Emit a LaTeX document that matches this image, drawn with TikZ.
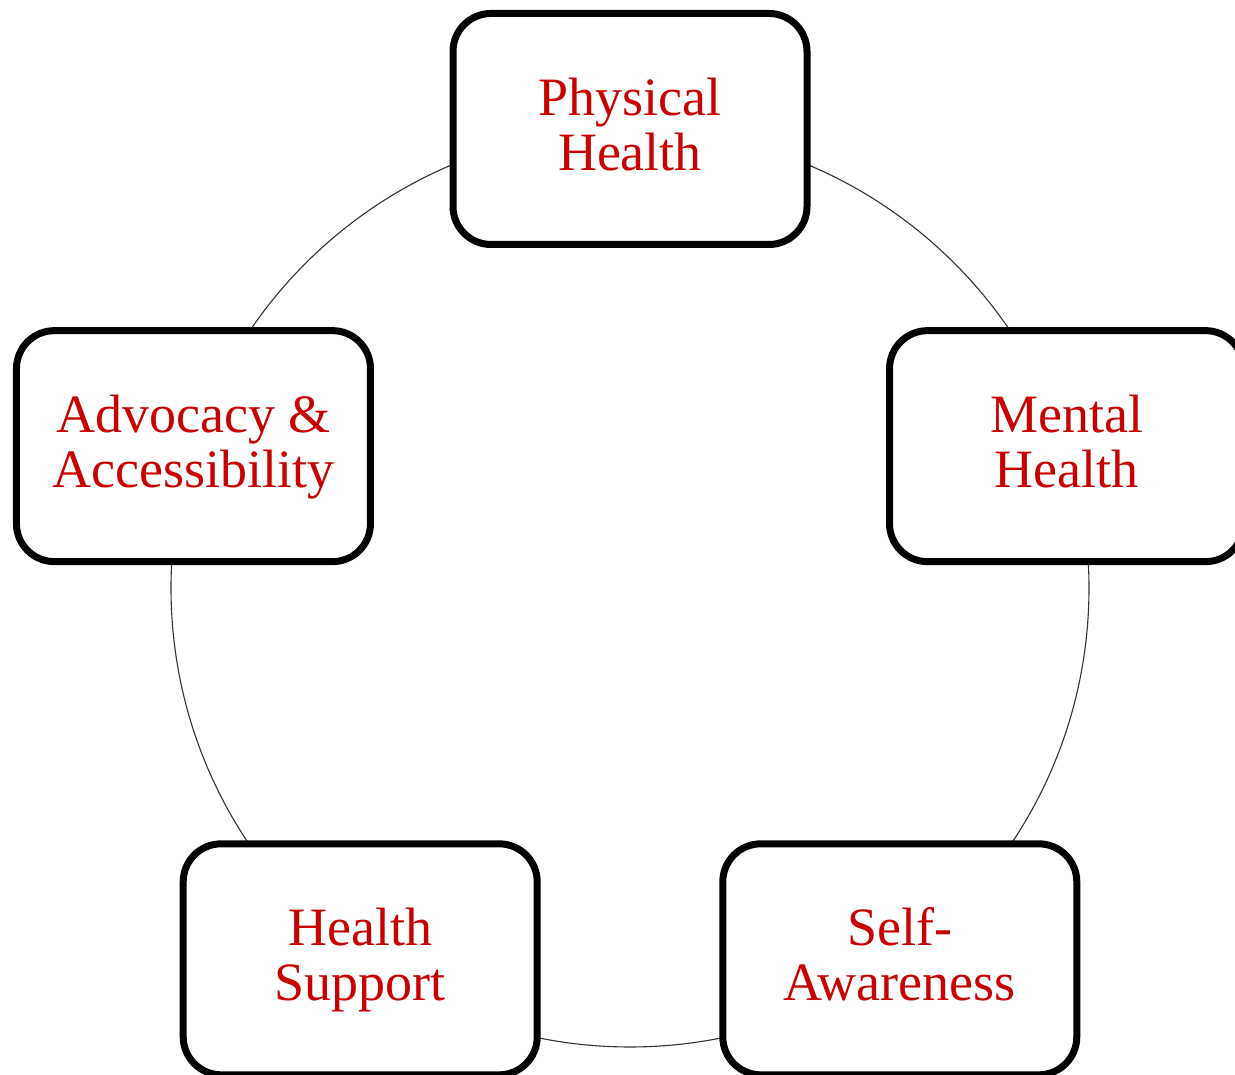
\documentclass[tikz,border=0pt]{standalone}
\usepackage{fontspec}
\setmainfont{Liberation Serif}
\usetikzlibrary{calc}
\definecolor{labelred}{RGB}{200,0,0}
\newcommand\topstrut{\rule{0pt}{40pt}}
\newcommand\botstrut{\rule[-12pt]{0pt}{12pt}}
\tikzset{
  pillar/.style={draw=black, line width=7pt, rounded corners=38pt, fill=white,
    minimum width=354pt, minimum height=231pt, inner sep=0pt,
    align=center, text=labelred, font=\fontsize{54}{55}\selectfont},
  ring/.style={draw=black!80, line width=1.1pt}
}
\begin{document}
\begin{tikzpicture}[x=1pt,y=1pt]
  \useasboundingbox (0,0) rectangle (1235,1075);
  \coordinate (c) at (630,487);
  % ring joining the five areas
  \draw[ring] (c) circle (459);
  % the five areas, on the vertices of a pentagon
  \node[pillar] (phys) at ($(c)+(90:459)$)  {\topstrut Physical\\Health\botstrut};
  \node[pillar] (ment) at ($(c)+(18:459)$)  {\topstrut Mental\\Health\botstrut};
  \node[pillar] (self) at ($(c)+(-54:459)$) {\topstrut Self-\\Awareness\botstrut};
  \node[pillar] (supp) at ($(c)+(234:459)$) {\topstrut Health\\Support\botstrut};
  \node[pillar] (advo) at ($(c)+(162:459)$) {\topstrut Advocacy \&\\Accessibility\botstrut};
\end{tikzpicture}
\end{document}
